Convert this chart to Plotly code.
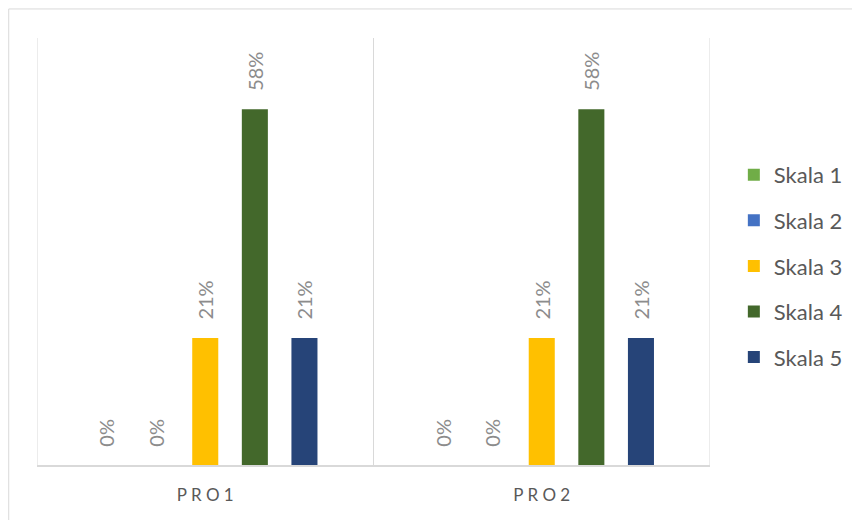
import plotly.graph_objects as go

categories = ["P R O 1", "P R O 2"]
series_names = ["Skala 1", "Skala 2", "Skala 3", "Skala 4", "Skala 5"]
series_values = [
    [0.0, 0.0],
    [0.0, 0.0],
    [0.2083, 0.2083],
    [0.5833, 0.5833],
    [0.2083, 0.2083],
]
colors = ["#70ad47", "#4472c4", "#ffc000", "#43682b", "#264478"]

LABEL_FONT = "Lato, Carlito, Liberation Sans, sans-serif"

fig = go.Figure()
for name, vals, col in zip(series_names, series_values, colors):
    fig.add_trace(go.Bar(
        x=categories, y=vals, name=name, legendgroup=name,
        marker=dict(color=col, line=dict(width=0)),
        text=["\u00a0\u00a0\u00a0" + f"{round(v*100)}%" for v in vals],
        textposition="outside", textangle=-90, constraintext="none",
        textfont=dict(family=LABEL_FONT, size=20, color="#8c8c8c"),
        cliponaxis=False,
    ))

# vertical separators at category boundaries
boundaries = [-0.5, 0.5, 1.5]
shapes = [dict(type="line", xref="x", yref="paper", x0=b, x1=b, y0=0, y1=1,
               line=dict(color="#d9d9d9", width=1), layer="below") for b in boundaries]
shapes.append(dict(type="rect", xref="paper", yref="paper",
                   x0=-0.042, x1=1.3, y0=-0.3, y1=1.068,
                   line=dict(color="#d9d9d9", width=1), fillcolor="rgba(0,0,0,0)", layer="below"))

fig.update_layout(
    width=860, height=520,
    margin=dict(l=29, r=158, t=30, b=63, autoexpand=False),
    paper_bgcolor="white", plot_bgcolor="white",
    barmode="group", bargap=0.263, bargroupgap=0.475,
    font=dict(family=LABEL_FONT, color="#595959"),
    xaxis=dict(
        range=[-0.5, 1.5], showgrid=False, ticks="", ticklen=0,
        showline=True, linecolor="#d9d9d9", linewidth=2,
        tickfont=dict(family=LABEL_FONT, size=17, color="#595959"),
        ticklabelstandoff=14,
        zeroline=False,
    ),
    yaxis=dict(range=[0, 0.7], visible=False, showgrid=False, zeroline=False),
    legend=dict(
        xref="container", yref="container",
        x=0.844, y=0.504, xanchor="left", yanchor="middle",
        font=dict(family=LABEL_FONT, size=22, color="#595959"),
        itemwidth=30, tracegroupgap=14,
        traceorder="grouped",
    ),
    showlegend=True,
    shapes=shapes,
)

fig.write_html("out.html")
